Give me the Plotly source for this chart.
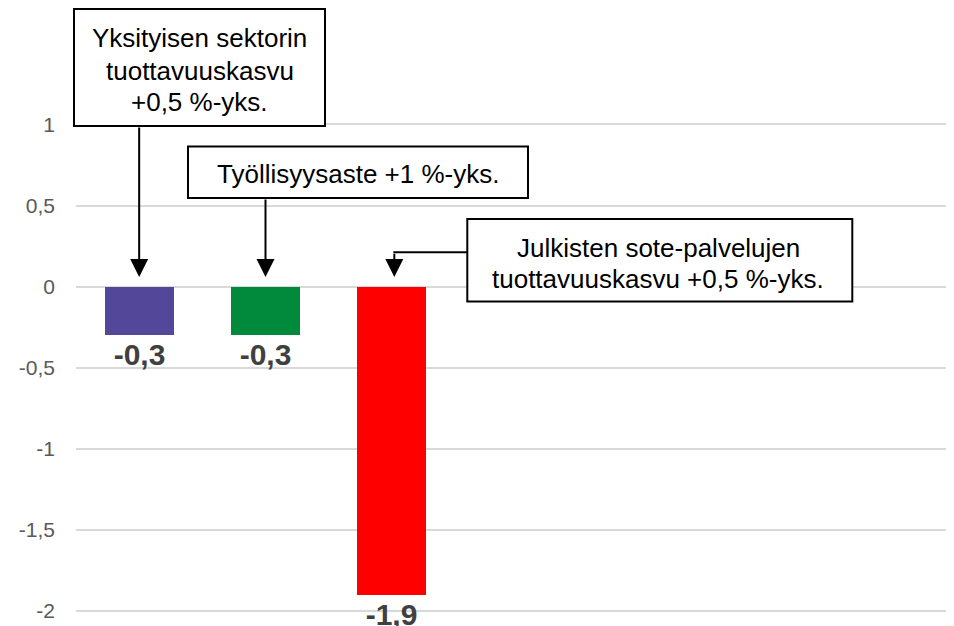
import plotly.graph_objects as go

# ---------------- data ----------------
categories = ["Yksityisen sektorin tuottavuuskasvu", "Työllisyysaste", "Julkisten sote-palvelujen tuottavuuskasvu"]
values = [-0.3, -0.3, -1.9]
bar_colors = ["#53479A", "#018A3B", "#FF0000"]
tick_vals = [-2, -1.5, -1, -0.5, 0, 0.5, 1]
tick_text = ["-2", "-1,5", "-1", "-0,5", "0", "0,5", "1"]
box1_lines = ["Yksityisen sektorin", "tuottavuuskasvu", "+0,5 %-yks."]
box2_lines = ["Työllisyysaste +1 %-yks."]
box3_lines = ["Julkisten sote-palvelujen", "tuottavuuskasvu +0,5 %-yks."]

value_labels = [f"{v:.1f}".replace(".", ",") for v in values]
xpos = list(range(len(values)))

# ---------------- layout geometry ----------------
OFF = 8  # default page body margin
W, H = 954 - OFF, 626 - OFF
ML, MR, MT, MB = 68, 0, 84, 7
PW, PH = W - ML - MR, H - MT - MB
XR = [-0.5, 6.45]
YR = [-2.05, 1.2]

FONT = "Arial, Liberation Sans, sans-serif"


def px_x(px):
    return (px - OFF - ML) / PW


def px_y(py):
    return (H - MB - (py - OFF)) / PH


def cat_paper(i):
    return (i - XR[0]) / (XR[1] - XR[0])


fig = go.Figure()
fig.add_trace(go.Bar(
    x=xpos, y=values,
    marker=dict(color=bar_colors, line=dict(width=0)),
    width=0.545,
    text=value_labels,
    textposition="outside",
    textfont=dict(family=FONT, size=30, color="#404040", weight="bold"),
    cliponaxis=False,
    hoverinfo="skip",
))

shapes = []
annotations = []

# boxes (page pixel geometry)
boxes = [
    (74, 9, 325, 126, 199.5, box1_lines, [36.3, 69, 101]),
    (188, 146.5, 528, 198, 358, box2_lines, [172]),
    (467.3, 219, 852.3, 301.5, 658, box3_lines, [246.3, 277.7]),
]
for (x0, y0, x1, y1, cx, lines, ys) in boxes:
    shapes.append(dict(type="rect", xref="paper", yref="paper",
                       x0=px_x(x0), x1=px_x(x1), y0=px_y(y1), y1=px_y(y0),
                       line=dict(color="black", width=2), fillcolor="white", layer="above"))
    for line, ly in zip(lines, ys):
        annotations.append(dict(xref="paper", yref="paper", x=px_x(cx), y=px_y(ly + 1.5),
                                text=line, showarrow=False, xanchor="center", yanchor="middle",
                                font=dict(family=FONT, size=26, color="black")))

# arrows
tip_px = 277
tails = [126, 198, 252.3]
x_nudge = [0, 0, 2.5]
for i, tail in enumerate(tails):
    annotations.append(dict(xref="paper", yref="paper", x=cat_paper(i) + x_nudge[i] / PW, y=px_y(tip_px),
                            ax=0, ay=-(tip_px - tail), text="", showarrow=True,
                            arrowhead=2, arrowwidth=2, arrowsize=1.8, arrowcolor="black",
                            standoff=0, startstandoff=0))
# elbow connector for third box
shapes.append(dict(type="line", xref="paper", yref="paper",
                   x0=px_x(467.3), x1=cat_paper(2) + (x_nudge[2] - 1) / PW,
                   y0=px_y(252.3), y1=px_y(252.3),
                   line=dict(color="black", width=2)))

fig.update_layout(
    width=W, height=H,
    margin=dict(l=ML, r=MR, t=MT, b=MB, pad=0),
    paper_bgcolor="white", plot_bgcolor="white",
    showlegend=False,
    bargap=0,
    xaxis=dict(range=XR, showticklabels=False, showgrid=False, zeroline=False,
               showline=False, ticks="", fixedrange=True),
    yaxis=dict(range=YR, tickvals=tick_vals, ticktext=tick_text,
               showgrid=True, gridcolor="#D9D9D9", gridwidth=1.5,
               zeroline=True, zerolinecolor="#D9D9D9", zerolinewidth=1.5,
               showline=False, ticks="", ticklabelstandoff=20,
               tickfont=dict(family=FONT, size=21, color="#595959")),
    shapes=shapes,
    annotations=annotations,
)

fig.write_html("out.html")
